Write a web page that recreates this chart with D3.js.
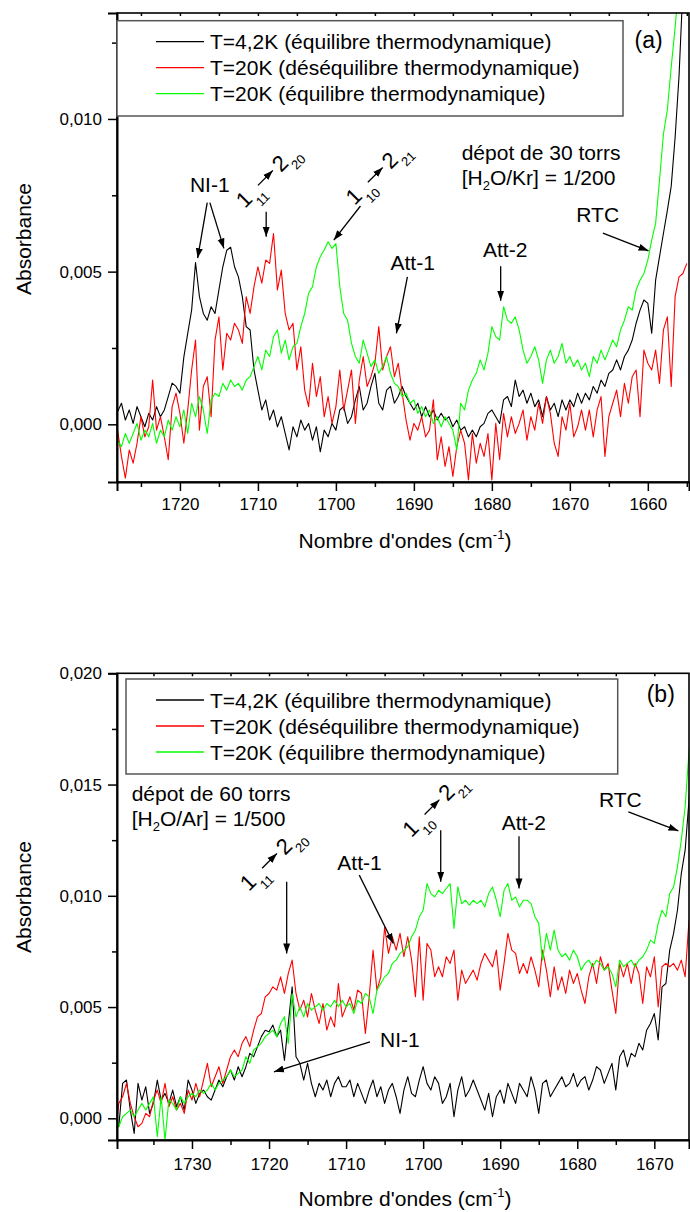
<!DOCTYPE html>
<meta charset="utf-8">
<html>
<head>
  <title>Spectres IR - absorbance</title>
  <style>
    body { margin: 0; background: #fff; }
    svg { display: block; }
    text { font-family: 'Liberation Sans', Arial, sans-serif; fill: #000; }
    .line { fill: none; stroke-width: 1.1px; stroke-linejoin: round; }
    .axis path, .axis line { stroke: #000; }
    .axis .domain { stroke-width: 2px; }
    .axis line { stroke-width: 1.5px; }
    .axis text { font-size: 17px; }
    .ann { font-size: 21px; }
    .arrow { stroke: #000; stroke-width: 1.3px; }
  </style>
  <script src="https://d3js.org/d3.v7.min.js"></script>
</head>
<body>
<svg width="690" height="1212"></svg>
<script>
  // absorbance values are in units of 1e-3, sampled every 0.5 cm-1
  // panel (a): 1728 -> 1655 cm-1
  var waveA = d3.range(1728, 1654.9, -0.5);
  var a42K = [
    0.41,0.69,0.14,0.47,0.03,0.58,0.25,-0.08,0.36,0.14,
    0.58,0.25,0.47,0.91,1.35,1.24,1.02,2.2,2.98,3.74,
    5.3,4.18,3.63,3.41,3.85,3.63,4.4,5.16,5.7,5.8,
    5.16,4.83,4.18,3.2,3.09,1.78,1.12,0.47,0.8,0.14,
    0.47,-0.08,0.25,-0.3,-0.84,-0.08,-0.41,0.14,-0.19,0.03,
    -0.52,-0.08,-0.9,-0.19,-0.41,0.03,-0.19,0.47,0.58,0.03,
    0.25,0.8,1.24,0.47,0.69,1.24,1.67,0.69,0.47,1.12,
    1.24,0.69,0.91,1.24,0.91,0.69,0.47,0.69,0.25,0.58,
    0.25,0.47,0.14,0.36,0.14,0.25,-0.08,0.14,-0.19,-0.08,
    -0.41,-0.19,-0.41,-0.08,0.03,0.36,0.47,0.25,0.03,0.8,
    0.91,0.58,1.45,0.91,1.12,0.69,1.02,0.58,0.8,0.25,
    0.91,0.47,0.69,0.25,0.8,0.47,0.8,0.58,1.02,0.69,
    1.02,0.8,1.24,1.02,1.45,1.24,1.67,1.78,2.11,1.78,
    2.22,2.43,2.76,3.31,3.74,4.07,3.96,2.98,4.72,5.49,
    6.25,7.0,7.8,9.4,11.4,14.3,17];
  var a20Kdes = [
    -0.19,-1.05,-1.76,-0.84,-1.27,-0.62,0.25,-0.41,-0.08,1.45,
    -0.19,0.25,-0.41,-1.16,0.58,1.02,0.36,-0.62,0.47,1.78,
    2.76,-0.19,1.24,1.56,0.25,2.76,3.52,1.78,2.98,2.76,
    3.31,3.09,2.65,4.18,3.63,4.51,5.16,4.62,5.38,5.27,
    6.25,4.4,5.05,3.63,3.09,3.31,1.78,2.54,1.12,0.58,
    2.0,0.91,1.56,0.25,0.91,0.03,0.58,1.78,0.47,1.12,
    1.78,0.03,1.45,2.22,1.24,1.56,2.0,3.2,1.78,2.22,
    2.54,1.56,2.0,1.02,0.14,-0.52,0.03,-0.19,0.25,-0.41,
    -0.19,0.8,-1.16,-0.41,-1.38,-0.73,-1.71,-0.73,-0.19,-0.62,
    -1.82,-0.3,-1.27,-0.62,-1.05,-0.3,-1.82,0.03,-1.16,0.36,
    -0.41,0.25,-0.3,0.03,0.47,-0.52,0.25,-0.19,0.69,0.03,
    0.91,0.36,-0.62,-1.05,0.25,-0.19,0.69,-0.41,-0.08,0.47,
    -0.19,0.47,-0.41,0.47,0.91,-1.05,0.25,0.69,1.12,0.25,
    1.34,0.69,1.56,1.78,0.25,2.43,2.0,1.78,2.43,1.34,
    3.09,3.52,1.24,4.18,4.83,4.94,5.27];
  var a20Keq = [
    -0.52,-0.73,-0.3,-0.62,-0.3,0.03,-0.52,-0.19,-0.41,0.03,
    -0.62,-0.19,-0.41,0.14,-0.19,0.25,-0.08,0.47,-0.3,0.69,
    0.25,0.91,0.47,-0.3,0.8,1.02,0.91,1.34,1.12,1.45,
    1.24,1.34,1.12,1.45,1.56,1.89,2.22,1.78,2.43,2.22,
    2.87,3.09,2.33,2.76,2.11,2.54,2.65,3.2,3.63,4.29,
    4.51,5.16,5.49,5.71,5.98,5.76,5.92,4.51,3.63,3.41,
    2.65,2.22,2.0,2.76,2.33,1.89,2.11,1.67,1.89,2.22,
    1.67,1.34,1.24,0.91,1.02,0.69,0.8,0.36,0.58,0.25,
    0.47,0.03,0.25,-0.08,0.25,0.03,-0.19,-0.84,0.69,0.47,
    1.12,1.45,1.67,2.11,1.78,2.33,3.2,2.87,2.76,3.85,
    3.41,3.31,3.52,3.09,2.43,2.0,2.22,2.54,2.11,1.34,
    2.11,2.43,2.0,2.22,2.65,2.0,2.22,1.89,2.11,1.78,
    2.0,1.56,2.22,2.0,2.43,2.11,2.43,2.76,2.54,3.09,
    3.41,3.85,3.74,4.4,4.72,4.94,5.38,6.03,6.58,8.0,
    9.5,10.3,11.7,13.0,14.5,16,17];

  // panel (b): 1740 -> 1665 cm-1
  var waveB = d3.range(1740, 1664.9, -0.5);
  var b42K = [
    -0.23,-0.38,1.57,1.72,0.37,-0.68,1.57,0.82,1.42,0.22,
    0.67,1.72,0.82,1.12,0.67,1.27,0.52,0.97,0.37,1.72,
    1.27,0.67,1.12,1.27,0.97,0.82,1.27,1.72,1.42,1.87,
    2.17,1.72,2.32,1.87,2.32,2.92,2.77,3.22,3.67,3.96,
    3.89,4.19,3.67,3.96,2.6,4.26,5.91,2.77,2.47,1.72,
    2.47,1.57,0.97,1.57,1.27,1.72,0.97,1.57,1.87,1.42,
    1.42,1.72,0.97,1.57,1.12,0.67,1.27,1.72,0.97,1.42,
    0.67,1.27,1.57,0.97,0.22,1.27,1.87,1.12,0.97,1.72,
    2.32,1.57,1.27,1.87,1.57,0.67,0.97,1.57,0.07,1.27,
    1.87,0.97,1.27,1.72,1.27,0.82,0.37,1.12,0.07,0.97,
    1.27,0.67,1.57,1.12,0.67,1.57,1.27,0.97,1.87,1.27,
    0.22,1.57,1.72,0.97,1.27,1.57,1.87,1.42,1.57,2.02,
    1.42,1.72,1.87,1.27,1.72,2.32,2.17,1.57,2.02,2.47,
    1.27,2.77,3.07,2.32,2.92,2.77,3.37,3.07,3.96,4.26,
    4.71,3.52,5.91,6.06,7.56,8.31,9.35,11.0,12.05,14.3,
    17];
  var b20Kdes = [
    -0.83,0.67,0.97,1.57,0.67,0.07,-0.38,-0.23,0.22,0.07,
    0.82,1.27,0.67,1.57,0.52,0.97,0.37,0.67,0.22,1.27,
    0.82,1.57,0.97,1.72,2.47,1.42,1.87,2.32,1.57,2.17,
    2.77,3.07,2.77,3.37,3.67,3.22,3.96,4.56,4.71,5.46,
    5.61,5.91,5.76,6.36,5.61,6.51,7.11,5.61,4.86,5.31,
    4.56,5.61,4.86,4.26,5.16,3.96,4.56,4.11,6.06,4.56,
    5.01,5.46,4.86,5.76,5.61,3.81,5.46,7.56,5.76,6.36,
    8.6,7.41,8.16,7.56,8.31,7.26,8.16,7.11,5.46,8.16,
    5.31,7.86,7.56,6.36,6.81,6.36,7.26,6.96,7.56,5.31,
    6.66,6.06,6.36,6.66,6.21,6.96,7.41,7.11,6.81,7.56,
    5.76,6.96,8.31,7.56,7.41,6.51,6.96,6.51,7.26,6.66,
    5.91,7.56,6.66,5.46,6.81,5.76,6.36,5.61,6.66,6.06,
    6.51,5.76,5.16,6.36,6.96,6.06,7.26,6.66,6.96,5.76,
    4.71,6.96,6.36,6.96,6.06,6.96,6.51,5.16,6.81,6.36,
    7.26,5.01,6.81,6.96,6.81,6.96,6.66,7.11,6.36,8.9,
    8.0];
  var b20Keq = [
    0.37,-0.38,0.07,0.22,0.37,0.07,0.37,0.67,0.37,0.67,
    0.97,-0.83,0.97,-0.98,0.82,0.67,0.37,0.97,0.67,0.97,
    1.12,0.97,1.27,1.12,1.27,1.57,1.27,1.57,1.72,1.87,
    2.17,1.87,2.02,2.17,2.77,2.47,3.07,3.22,3.37,3.67,
    3.81,3.96,3.67,4.26,4.56,3.37,5.61,4.56,5.01,4.56,
    5.16,4.86,5.01,5.16,4.86,5.16,5.01,5.31,5.01,5.31,
    5.01,5.16,4.71,5.31,5.16,5.61,5.46,4.71,5.76,6.06,
    6.36,6.51,6.96,7.11,7.41,7.56,7.71,8.16,8.46,9.06,
    9.35,10.55,10.1,9.95,10.25,10.1,10.33,10.55,8.53,10.4,
    9.65,9.8,9.58,9.8,9.65,9.8,9.5,10.1,10.4,9.8,
    9.06,10.25,10.55,9.8,9.95,9.5,9.8,9.8,9.65,9.06,
    8.76,7.11,8.31,7.56,8.46,7.56,7.26,7.41,7.11,7.56,
    7.26,6.66,6.96,7.11,6.81,7.11,6.96,6.66,6.81,6.51,
    5.91,7.11,6.81,6.96,7.11,6.81,7.11,7.26,7.56,8.01,
    7.86,8.76,9.35,9.06,10.1,10.4,11.3,12.5,14.0,16.5,
    18];

  var seriesNames = [
    "T=4,2K (équilibre thermodynamique)",
    "T=20K (déséquilibre thermodynamique)",
    "T=20K (équilibre thermodynamique)"
  ];
  var seriesColors = ["#000000", "#ff0000", "#00ff00"];

  // ticks
  var xMajorA = [1720, 1710, 1700, 1690, 1680, 1670, 1660];
  var xMinorA = [1725, 1715, 1705, 1695, 1685, 1675, 1665, 1655];
  var yMajorA = [0, 5, 10];
  var yMinorA = [2.5, 7.5, 12.5];
  var yLabelsA = ["0,000", "0,005", "0,010"];
  var xMajorB = [1730, 1720, 1710, 1700, 1690, 1680, 1670];
  var xMinorB = [1735, 1725, 1715, 1705, 1695, 1685, 1675];
  var yMajorB = [0, 5, 10, 15, 20];
  var yMinorB = [2.5, 7.5, 12.5, 17.5];
  var yLabelsB = ["0,000", "0,005", "0,010", "0,015", "0,020"];

  [[waveA, a42K, a20Kdes, a20Keq], [waveB, b42K, b20Kdes, b20Keq]].forEach(function(p) {
    p.slice(1).forEach(function(s) {
      if (s.length !== p[0].length) throw new Error("length " + s.length + " vs " + p[0].length);
    });
  });

  var svg = d3.select("svg");
  var left = 117, right = 689;

  var defs = svg.append("defs");
  defs.append("marker")
      .attr("id", "head")
      .attr("viewBox", "0 -4 10 8")
      .attr("refX", 10).attr("refY", 0)
      .attr("markerUnits", "userSpaceOnUse")
      .attr("markerWidth", 10).attr("markerHeight", 8)
      .attr("orient", "auto")
    .append("path")
      .attr("d", "M0,-3.5L10,0L0,3.5Z")
      .attr("fill", "#000");

  var panels = [
    { id: "a", wave: waveA, series: [a42K, a20Kdes, a20Keq],
      xDomain: [1728.07, 1654.72], yDomain: [-1.889, 13.47], top: 13, bottom: 482,
      xMajor: xMajorA, xMinor: xMinorA, yMajor: yMajorA, yMinor: yMinorA, yLabels: yLabelsA,
      labelPad: 7, yTitle: 239, xTitle: 548,
      legend: { x0: left, y0: 20.7, x1: 623, y1: 116, row0: 41.7 } },
    { id: "b", wave: waveB, series: [b42K, b20Kdes, b20Keq],
      xDomain: [1739.73, 1665.5], yDomain: [-0.975, 20], top: 673.3, bottom: 1140,
      xMajor: xMajorB, xMinor: xMinorB, yMajor: yMajorB, yMinor: yMinorB, yLabels: yLabelsB,
      labelPad: 9, yTitle: 897, xTitle: 1206,
      legend: { x0: 126, y0: 679, x1: 617.7, y1: 774, row0: 700 } }
  ];

  panels.forEach(function(p) {
    var x = d3.scaleLinear().domain(p.xDomain).range([left, right]);
    var y = d3.scaleLinear().domain(p.yDomain).range([p.bottom, p.top]);
    p.x = x; p.y = y;

    var g = svg.append("g").attr("class", "panel-" + p.id);

    defs.append("clipPath").attr("id", "clip-" + p.id)
      .append("rect")
        .attr("x", left).attr("y", p.top)
        .attr("width", right - left).attr("height", p.bottom - p.top);

    var line = d3.line()
      .x(function(d) { return x(d[0]); })
      .y(function(d) { return y(d[1]); });

    // curves
    g.append("g").attr("clip-path", "url(#clip-" + p.id + ")")
      .selectAll("path")
      .data(p.series)
      .enter().append("path")
        .attr("class", "line")
        .attr("d", function(s) { return line(s.map(function(v, i) { return [p.wave[i], v]; })); })
        .style("stroke", function(s, i) { return seriesColors[i]; });

    // frame
    g.append("rect")
      .attr("x", left).attr("y", p.top)
      .attr("width", right - left).attr("height", p.bottom - p.top)
      .attr("fill", "none").attr("stroke", "#000").attr("stroke-width", 1.6);

    // bottom axis
    g.append("g").attr("class", "axis")
      .attr("transform", "translate(0," + p.bottom + ")")
      .call(d3.axisBottom(x).tickValues(p.xMajor).tickSize(9).tickPadding(p.labelPad)
        .tickFormat(d3.format("d")));
    g.append("g").attr("class", "axis minor")
      .attr("transform", "translate(0," + p.bottom + ")")
      .call(d3.axisBottom(x).tickValues(p.xMinor).tickSize(5).tickFormat(""))
      .select(".domain").remove();
    // small inner ticks along the top
    g.append("g").attr("class", "axis minor")
      .attr("transform", "translate(0," + p.top + ")")
      .call(d3.axisTop(x).tickValues(p.xMajor.concat(p.xMinor)).tickSize(-3).tickFormat(""))
      .select(".domain").remove();

    // left axis
    g.append("g").attr("class", "axis")
      .attr("transform", "translate(" + left + ",0)")
      .call(d3.axisLeft(y).tickValues(p.yMajor).tickSize(9).tickPadding(6)
        .tickFormat(function(d, i) { return p.yLabels[i]; }));
    g.append("g").attr("class", "axis minor")
      .attr("transform", "translate(" + left + ",0)")
      .call(d3.axisLeft(y).tickValues(p.yMinor).tickSize(5).tickFormat(""))
      .select(".domain").remove();

    // axis titles
    g.append("text")
      .attr("transform", "translate(31," + p.yTitle + ") rotate(-90)")
      .attr("text-anchor", "middle")
      .style("font-size", "21px")
      .text("Absorbance");
    var xt = g.append("text")
      .attr("x", (left + right) / 2 + 2).attr("y", p.xTitle)
      .attr("text-anchor", "middle")
      .style("font-size", "21px");
    xt.append("tspan").text("Nombre d'ondes (cm");
    xt.append("tspan").attr("dy", -9).style("font-size", "13px").text("-1");
    xt.append("tspan").attr("dy", 9).text(")");

    // legend
    var L = p.legend;
    var lg = g.append("g").attr("class", "legend");
    lg.append("rect")
      .attr("x", L.x0).attr("y", L.y0)
      .attr("width", L.x1 - L.x0).attr("height", L.y1 - L.y0)
      .attr("fill", "#fff").attr("stroke", "#555").attr("stroke-width", 1.5);
    var rows = lg.selectAll(".row")
      .data(seriesNames)
      .enter().append("g")
        .attr("transform", function(d, i) { return "translate(0," + (L.row0 + i * 26) + ")"; });
    rows.append("line")
      .attr("x1", 156).attr("x2", 204)
      .attr("stroke", function(d, i) { return seriesColors[i]; })
      .attr("stroke-width", 1.3);
    rows.append("text")
      .attr("x", 210).attr("y", 7.5)
      .style("font-size", "21px")
      .text(function(d) { return d; });
  });

  // ---------- annotations (positions in data units: wavenumber, 1e-3 absorbance)
  function label(p, w, v, txt, size) {
    return svg.append("text").attr("class", "ann")
      .attr("x", p.x(w)).attr("y", p.y(v))
      .style("font-size", (size || 21) + "px")
      .text(txt);
  }
  function arrow(p, w1, v1, w2, v2) {
    svg.append("line").attr("class", "arrow")
      .attr("x1", p.x(w1)).attr("y1", p.y(v1))
      .attr("x2", p.x(w2)).attr("y2", p.y(v2))
      .attr("marker-end", "url(#head)");
  }
  function ratio(p, w, v1, v2, gas, ratioTxt) {
    label(p, w, v1, "dépot de " + gas[0] + " torrs");
    var t = label(p, w, v2, "");
    t.append("tspan").text("[H");
    t.append("tspan").attr("dy", 5).style("font-size", "13px").text("2");
    t.append("tspan").attr("dy", -5).text("O/" + gas[1] + "] = " + ratioTxt);
  }
  // rotated "1_lo -> 2_hi" rotational transition
  function transition(p, w, v, lo, hi) {
    var t = svg.append("g")
      .attr("transform", "translate(" + p.x(w) + "," + p.y(v) + ") rotate(-45)");
    t.append("text").style("font-size", "22px").text("1");
    t.append("text").attr("x", 13).attr("y", 10).style("font-size", "13px").text(lo);
    t.append("line").attr("class", "arrow")
      .attr("x1", 26).attr("y1", -7.5).attr("x2", 47).attr("y2", -7.5)
      .attr("marker-end", "url(#head)");
    t.append("text").attr("x", 51).style("font-size", "22px").text("2");
    t.append("text").attr("x", 64).attr("y", 9).style("font-size", "13px").text(hi);
  }

  var pa = panels[0], pb = panels[1];

  label(pa, 1661.7, 12.32, "(a)", 23);
  ratio(pa, 1683.87, 8.65, 7.84, ["30", "Kr"], "1/200");
  label(pa, 1718.72, 7.62, "NI-1");
  arrow(pa, 1716.5, 7.26, 1717.73, 5.44);
  arrow(pa, 1716.16, 7.26, 1714.36, 5.76);
  transition(pa, 1711.67, 7.05, "11", "20");
  arrow(pa, 1708.94, 6.96, 1708.94, 6.14);
  transition(pa, 1697.58, 7.15, "10", "21");
  arrow(pa, 1696.85, 7.15, 1700.27, 6.03);
  label(pa, 1693.0, 5.05, "Att-1");
  arrow(pa, 1690.83, 4.83, 1692.24, 2.98);
  label(pa, 1681.14, 5.49, "Att-2");
  arrow(pa, 1678.87, 5.18, 1678.87, 4.05);
  label(pa, 1669.17, 6.63, "RTC");
  arrow(pa, 1665.76, 6.26, 1659.91, 5.68);

  label(pb, 1670.99, 18.7, "(b)", 23);
  ratio(pb, 1737.83, 14.25, 13.13, ["60", "Ar"], "1/500");
  transition(pb, 1722.6, 10.17, "11", "20");
  arrow(pb, 1717.71, 10.63, 1717.71, 7.41);
  label(pb, 1711.14, 11.15, "Att-1");
  arrow(pb, 1708.29, 10.93, 1703.87, 7.86);
  transition(pb, 1701.51, 12.59, "10", "21");
  arrow(pb, 1697.72, 12.95, 1697.72, 10.63);
  label(pb, 1689.81, 12.95, "Att-2");
  arrow(pb, 1687.56, 12.68, 1687.56, 10.33);
  label(pb, 1677.18, 14.0, "RTC");
  arrow(pb, 1673.37, 13.77, 1666.88, 12.92);
  label(pb, 1705.6, 3.22, "NI-1");
  arrow(pb, 1706.9, 3.44, 1719.36, 2.09);
</script>
</body>
</html>
